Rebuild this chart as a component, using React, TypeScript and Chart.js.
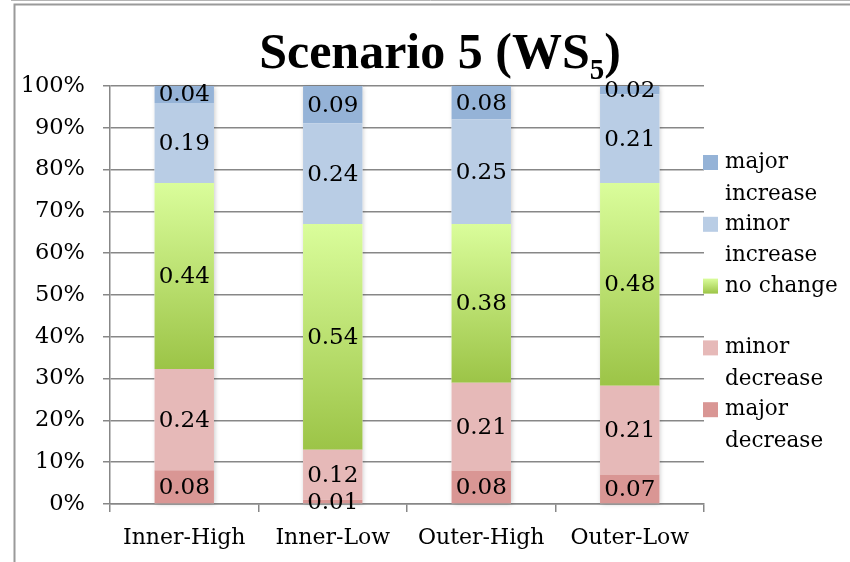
import { useEffect, useRef } from 'react';
import { Chart, registerables } from 'chart.js';

Chart.register(...registerables);

const categories = ['Inner-High', 'Inner-Low', 'Outer-High', 'Outer-Low'];
const seriesNames = ['major decrease', 'minor decrease', 'no change', 'minor increase', 'major increase'];
const majorDecrease = [0.08, 0.01, 0.08, 0.07];
const minorDecrease = [0.24, 0.12, 0.21, 0.21];
const noChange = [0.44, 0.54, 0.38, 0.48];
const minorIncrease = [0.19, 0.24, 0.25, 0.21];
const majorIncrease = [0.04, 0.09, 0.08, 0.02];
const legendLines = [['major', 'increase'], ['minor', 'increase'], ['no change'], ['minor', 'decrease'], ['major', 'decrease']];
const titleMain = 'Scenario 5 (WS';
const titleSub = '5';
const titleEnd = ')';

const seriesValues = [majorDecrease, minorDecrease, noChange, minorIncrease, majorIncrease];
const totals = categories.map((_, j) => seriesValues.reduce((s, arr) => s + arr[j], 0));
const percents = seriesValues.map((arr) => arr.map((v, j) => (v / totals[j]) * 100));

const FLAT_COLORS = ['#d99694', '#e6b9b8', '#bcdc78', '#b9cde5', '#95b3d7'];
const GREEN_TOP = '#dafd9b';
const GREEN_BOTTOM = '#9cc447';
const GRID = '#878787';
const FONT = '"DejaVu Serif", serif';

const greenFill = (ctx: any) => {
  const chart = ctx.chart;
  const y = chart.scales && chart.scales.y;
  if (!y || ctx.type !== 'data') return FLAT_COLORS[2];
  const j = ctx.dataIndex;
  const start = percents[0][j] + percents[1][j];
  const end = start + percents[2][j];
  const top = y.getPixelForValue(end);
  const bot = y.getPixelForValue(start);
  if (!isFinite(top) || !isFinite(bot)) return FLAT_COLORS[2];
  const g = chart.ctx.createLinearGradient(0, top, 0, bot);
  g.addColorStop(0, GREEN_TOP);
  g.addColorStop(1, GREEN_BOTTOM);
  return g;
};

const framePlugin = {
  id: 'frame',
  beforeDraw(chart: any) {
    const c = chart.ctx;
    c.save();
    c.fillStyle = '#ffffff';
    c.fillRect(0, 0, chart.width, chart.height);
    c.strokeStyle = '#b5b5b5';
    c.lineWidth = 1;
    c.beginPath();
    c.moveTo(11, 0.5);
    c.lineTo(chart.width, 0.5);
    c.stroke();
    c.strokeStyle = '#9a9a9a';
    c.lineWidth = 2;
    c.beginPath();
    c.moveTo(14.5, chart.height);
    c.lineTo(14.5, 4.5);
    c.lineTo(chart.width, 4.5);
    c.stroke();
    c.restore();
  },
};

const shadowPlugin = {
  id: 'barShadow',
  beforeDatasetsDraw(chart: any) {
    const c = chart.ctx;
    const first = chart.getDatasetMeta(0).data;
    const last = chart.getDatasetMeta(seriesValues.length - 1).data;
    c.save();
    c.shadowColor = 'rgba(0,0,0,0.25)';
    c.shadowBlur = 5;
    c.shadowOffsetX = 1;
    c.shadowOffsetY = 1;
    c.fillStyle = '#ffffff';
    first.forEach((el: any, j: number) => {
      const top = last[j].y;
      const base = el.base;
      const w = el.width;
      c.fillRect(el.x - w / 2, top, w, base - top);
    });
    c.restore();
  },
};

const labelPlugin = {
  id: 'valueLabels',
  afterDatasetsDraw(chart: any) {
    const c = chart.ctx;
    c.save();
    c.font = `23px ${FONT}`;
    c.fillStyle = '#000000';
    c.textAlign = 'center';
    c.textBaseline = 'middle';
    seriesValues.forEach((arr, i) => {
      const meta = chart.getDatasetMeta(i);
      meta.data.forEach((el: any, j: number) => {
        c.fillText(arr[j].toFixed(2), el.x, (el.y + el.base) / 2 + 1);
      });
    });
    c.restore();
  },
};

const titlePlugin = {
  id: 'subTitle',
  afterDraw(chart: any) {
    const c = chart.ctx;
    c.save();
    c.fillStyle = '#000000';
    c.textBaseline = 'alphabetic';
    c.textAlign = 'left';
    const big = 'bold 50px "Liberation Serif", serif';
    const small = 'bold 29px "Liberation Serif", serif';
    c.font = big;
    const w1 = c.measureText(titleMain).width;
    c.font = small;
    const w2 = c.measureText(titleSub).width;
    c.font = big;
    const w3 = c.measureText(titleEnd).width;
    const total = w1 + w2 + w3;
    let x = 440 - total / 2;
    c.font = big;
    c.fillText(titleMain, x, 68);
    x += w1;
    c.font = small;
    c.fillText(titleSub, x, 79);
    x += w2;
    c.font = big;
    c.fillText(titleEnd, x, 68);
    c.restore();
  },
};

const legendPlugin = {
  id: 'customLegend',
  afterDraw(chart: any) {
    const c = chart.ctx;
    c.save();
    c.font = `21.5px ${FONT}`;
    c.fillStyle = '#000000';
    c.textAlign = 'left';
    c.textBaseline = 'middle';
    const order = [4, 3, 2, 1, 0];
    order.forEach((ds, k) => {
      const top = 155 + k * 61.8;
      if (ds === 2) {
        const g = c.createLinearGradient(0, top, 0, top + 15);
        g.addColorStop(0, GREEN_TOP);
        g.addColorStop(1, GREEN_BOTTOM);
        c.fillStyle = g;
      } else {
        c.fillStyle = FLAT_COLORS[ds];
      }
      c.fillRect(703, top, 15, 15);
      c.fillStyle = '#000000';
      legendLines[k].forEach((line, li) => {
        c.fillText(line, 725, top + 7.5 + li * 31.5);
      });
    });
    c.restore();
  },
};

export default function App() {
  const ref = useRef<HTMLCanvasElement | null>(null);

  useEffect(() => {
    if (!ref.current) return;
    const chart = new Chart(ref.current, {
      type: 'bar',
      data: {
        labels: categories,
        datasets: seriesValues.map((_, i) => ({
          label: seriesNames[i],
          data: percents[i],
          backgroundColor: i === 2 ? greenFill : FLAT_COLORS[i],
          borderWidth: 0,
          barPercentage: 0.4,
          categoryPercentage: 1.0,
        })),
      },
      options: {
        animation: false,
        responsive: false,
        devicePixelRatio: 1,
        layout: { padding: { top: 86, right: 146, left: 0, bottom: 0 } },
        plugins: {
          legend: { display: false },
          title: { display: false },
          tooltip: { enabled: false },
        },
        scales: {
          x: {
            stacked: true,
            afterFit: (s: any) => {
              s.height = 58;
            },
            grid: {
              offset: true,
              drawOnChartArea: false,
              drawTicks: true,
              tickLength: 8,
              color: GRID,
              lineWidth: 1.5,
            },
            border: { display: true, color: GRID, width: 1.5 },
            ticks: {
              color: '#000000',
              padding: 13,
              font: { family: FONT, size: 22 },
              maxRotation: 0,
            },
          },
          y: {
            stacked: true,
            min: 0,
            max: 100,
            afterFit: (s: any) => {
              s.width = 110;
            },
            grid: {
              color: GRID,
              lineWidth: 1.5,
              tickLength: 7,
              drawTicks: true,
            },
            border: { display: true, color: GRID, width: 1.5 },
            ticks: {
              stepSize: 10,
              color: '#000000',
              padding: 18,
              font: { family: FONT, size: 22.5 },
              callback: (v: any) => `${v}%`,
            },
          },
        },
      },
      plugins: [framePlugin, shadowPlugin, labelPlugin, titlePlugin, legendPlugin],
    });
    return () => chart.destroy();
  }, []);

  return (
    <div style={{ position: 'fixed', left: 0, top: 0, width: 850, height: 562, background: '#fff' }}>
      <canvas ref={ref} width={850} height={562} style={{ display: 'block', width: 850, height: 562 }} />
    </div>
  );
}
